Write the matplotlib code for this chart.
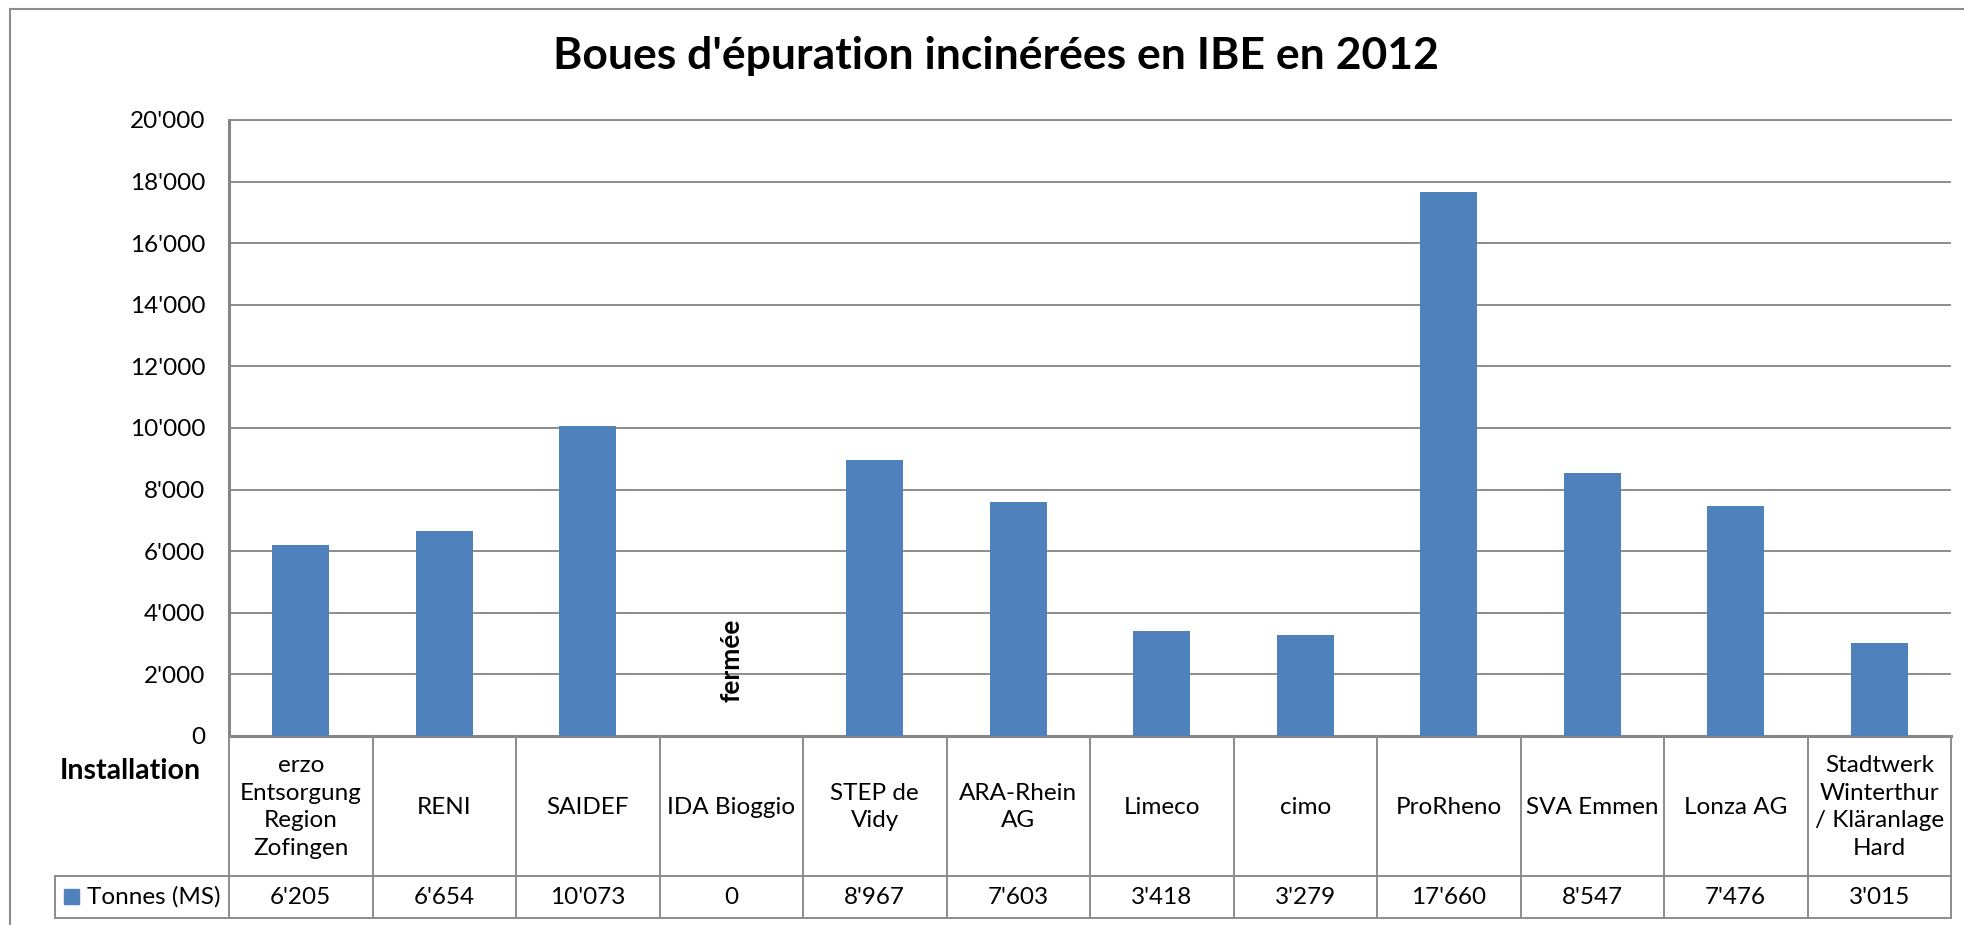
import matplotlib
matplotlib.use("Agg")
import matplotlib.pyplot as plt
import matplotlib.transforms as mtransforms
from matplotlib.patches import Rectangle
from matplotlib.lines import Line2D

# data
installations = ["erzo\nEntsorgung\nRegion\nZofingen", "RENI", "SAIDEF", "IDA Bioggio",
                 "STEP de\nVidy", "ARA-Rhein\nAG", "Limeco", "cimo", "ProRheno",
                 "SVA Emmen", "Lonza AG", "Stadtwerk\nWinterthur\n/ Kläranlage\nHard"]
tonnes = [6205, 6654, 10073, 0, 8967, 7603, 3418, 3279, 17660, 8547, 7476, 3015]
closed = [3]  # IDA Bioggio
yticks = list(range(0, 20001, 2000))
title = "Boues d'épuration incinérées en IBE en 2012"


def fmt(v):
    return f"{v:,.0f}".replace(",", "'")


plt.rcParams.update({"font.family": ["Lato", "DejaVu Sans"], "font.size": 17.5})

W, H = 1964, 925
fig = plt.figure(figsize=(W / 100, H / 100), dpi=100)
L, R, T, B = 229, 1951, 120, 736
ax = fig.add_axes([L / W, 1 - B / H, (R - L) / W, (B - T) / H])

x = list(range(len(tonnes)))
ax.bar(x, tonnes, width=0.4, color="#4F81BD", zorder=3)
ax.set_xlim(-0.5, len(tonnes) - 0.5)
ax.set_ylim(0, 20000)
ax.set_yticks(yticks)
ax.set_yticklabels([fmt(v) for v in yticks])
ax.set_xticks([])
ax.tick_params(axis="y", length=0, pad=17)
ax.grid(axis="y", color="#8c8c8c", linewidth=1.4)
ax.set_axisbelow(True)
ax.spines["right"].set_visible(False)
ax.spines["top"].set_color("#8c8c8c")
ax.spines["top"].set_linewidth(1.4)
for s in ["left", "bottom"]:
    ax.spines[s].set_color("#868686")
    ax.spines[s].set_linewidth(2.2)

for i in closed:
    ax.text(i, 2450, "fermée", rotation=90, ha="center", va="center",
            fontweight="bold", fontsize=19)

fig.text(996 / W, 1 - 56 / H, title, ha="center", va="center",
         fontsize=32, fontweight="bold")

# data table below the axis
trans = mtransforms.blended_transform_factory(ax.transData, mtransforms.IdentityTransform())
pix = mtransforms.IdentityTransform()


def Y(y):
    return H - y


lc = "#8c8c8c"
for i in range(len(tonnes) + 1):
    fig.add_artist(Line2D([i - 0.5, i - 0.5], [Y(B), Y(918)], color=lc, lw=1.4, transform=trans))
for yy in [876, 918]:
    fig.add_artist(Line2D([55, R], [Y(yy), Y(yy)], color=lc, lw=1.4, transform=pix))
fig.add_artist(Line2D([55, 55], [Y(876), Y(918)], color=lc, lw=1.4, transform=pix))

for i, (name, v) in enumerate(zip(installations, tonnes)):
    fig.text(i, Y(807), name, ha="center", va="center", linespacing=1.4,
             transform=trans)
    fig.text(i, Y(897), fmt(v), ha="center", va="center", transform=trans)

fig.add_artist(Rectangle((64, Y(904)), 15, 15, color="#4F81BD", transform=pix))
fig.text(87, Y(897), "Tonnes (MS)", ha="left", va="center", transform=pix)
fig.text(60, Y(771), "Installation", ha="left", va="center", fontweight="bold",
         fontsize=20.5, transform=pix)

# outer chart border
fig.add_artist(Line2D([10, 10], [0, Y(9)], color="#8c8c8c", lw=1.5, transform=pix))
fig.add_artist(Line2D([10, W], [Y(9), Y(9)], color="#8c8c8c", lw=1.5, transform=pix))

fig.savefig("out.png", dpi=100)
